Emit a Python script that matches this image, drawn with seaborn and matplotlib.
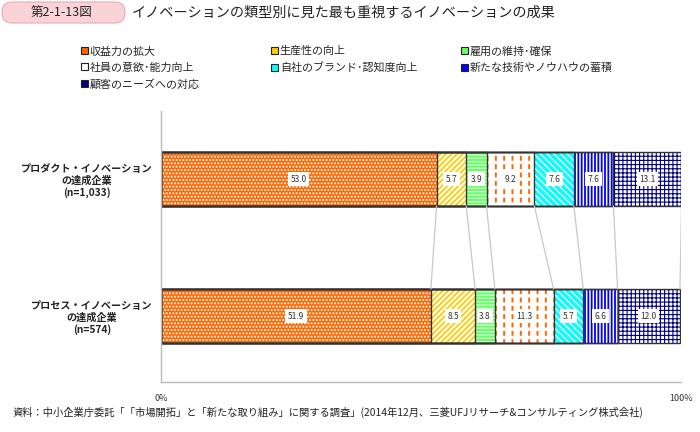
import matplotlib
matplotlib.use("Agg")
import matplotlib.pyplot as plt
import seaborn as sns
import numpy as np
import pandas as pd
from matplotlib.patches import Patch, FancyBboxPatch

sns.set_theme(style="white")
plt.rcParams['font.family'] = ['Noto Sans CJK JP', 'DejaVu Sans']
plt.rcParams['hatch.linewidth'] = 1.2

categories = ["プロダクト・イノベーション\nの達成企業\n(n=1,033)",
              "プロセス・イノベーション\nの達成企業\n(n=574)"]
series = ["収益力の拡大", "生産性の向上", "雇用の維持･確保", "社員の意欲･能力向上",
          "自社のブランド･認知度向上", "新たな技術やノウハウの蓄積", "顧客のニーズへの対応"]
product_vals = [53.0, 5.7, 3.9, 9.2, 7.6, 7.6, 13.1]
process_vals = [51.9, 8.5, 3.8, 11.3, 5.7, 6.6, 12.0]
x_ticks = [0, 100]
x_ticklabels = ["0%", "100%"]

# style per series: facecolor, hatch, hatch colour, legend colour
styles = [
    dict(fc="#FF6600", hatch=".....", hc="white", lc="#FF6600", hlw=1.0),
    dict(fc="white", hatch="//////", hc="#FFCC00", lc="#FFCC00", hlw=1.3),
    dict(fc="#66FF66", hatch="-----", hc="#CCFFCC", lc="#66FF66", hlw=1.0),
    dict(fc="white", hatch="||", hc="#FF6600", lc="white", hlw=1.4, overlay="--"),
    dict(fc="#00FFFF", hatch="\\\\\\\\\\", hc="white", lc="#00FFFF", hlw=1.0),
    dict(fc="white", hatch="|||||", hc="#0000FF", lc="#0000FF", hlw=1.3),
    dict(fc="white", hatch="++++", hc="#000080", lc="#000080", hlw=0.8),
]

vals = np.array([product_vals, process_vals])  # shape (2, n)
cum_end = np.cumsum(vals, axis=1)
cum_start = cum_end - vals

fig = plt.figure(figsize=(7, 4.32), dpi=100)
ax = fig.add_axes([161/700, 1 - 381.8/432, 520/700, 271.3/432])

W = 0.394
# draw cumulative bars from the largest to smallest so each covers the previous
for i in reversed(range(len(series))):
    st = styles[i]
    df = pd.DataFrame({"cat": categories, "end": cum_end[:, i]})
    n0 = len(ax.patches)
    sns.barplot(data=df, x="end", y="cat", orient="h", color=st["fc"], width=W,
                ax=ax, saturation=1, linewidth=0, order=categories)
    for p in ax.patches[n0:]:
        p.set_facecolor(st["fc"])
        p.set_edgecolor(st["hc"])
        p.set_hatch(st["hatch"])
        p.set_linewidth(0)
        if hasattr(p, "set_hatch_linewidth"):
            p.set_hatch_linewidth(st["hlw"])
    if "overlay" in st:
        n1 = len(ax.patches)
        sns.barplot(data=df, x="end", y="cat", orient="h", color="white", width=W,
                    ax=ax, saturation=1, linewidth=0, fill=False, order=categories)
        for p in ax.patches[n1:]:
            p.set_fill(False)
            p.set_edgecolor("white")
            p.set_hatch(st["overlay"])
            p.set_linewidth(0)
            if hasattr(p, "set_hatch_linewidth"):
                p.set_hatch_linewidth(2.5)

# outlines
for i in reversed(range(len(series))):
    df = pd.DataFrame({"cat": categories, "end": cum_end[:, i]})
    n0 = len(ax.patches)
    sns.barplot(data=df, x="end", y="cat", orient="h", color="#333333", width=W,
                ax=ax, fill=False, linewidth=1.0, order=categories)
    for p in ax.patches[n0:]:
        p.set_fill(False)
        p.set_edgecolor("#333333")
        p.set_linewidth(1.0)
        p.set_hatch(None)

# value labels
for r in range(2):
    for i in range(len(series)):
        xc = cum_start[r, i] + vals[r, i] / 2
        ax.text(xc, r, f"{vals[r, i]:.1f}", ha="center", va="center", fontsize=6,
                color="#333333", zorder=10,
                bbox=dict(boxstyle="square,pad=0.3", fc="white", ec="none"))

# connector lines
for i in range(len(series)):
    ax.plot([cum_end[0, i], cum_end[1, i]], [0 + W/2, 1 - W/2], color="#C8C8C8",
            linewidth=0.9, zorder=1)

ax.set_xlim(0, 100)
ax.set_ylim(1.48, -0.5)
ax.set_xticks(x_ticks)
ax.set_xticklabels(x_ticklabels, fontsize=6.5, color="#333333")
ax.tick_params(axis="x", length=0, pad=9)
ax.set_yticks([0, 1])
ax.set_yticklabels(categories, fontsize=7.3, color="#222222", fontweight="bold",
                   multialignment="center")
ax.tick_params(axis="y", length=0, pad=6)
ax.set_xlabel("")
ax.set_ylabel("")
for s in ["top", "right"]:
    ax.spines[s].set_visible(False)
for s in ["left", "bottom"]:
    ax.spines[s].set_color("#BBBBBB")
    ax.spines[s].set_linewidth(1.0)

# legends (three columns)
cols = [[0, 3, 6], [1, 4], [2, 5]]
col_x = [81/700, 271/700, 461/700]
for cx, idxs in zip(col_x, cols):
    handles = [Patch(facecolor=styles[k]["lc"], edgecolor="#222222", linewidth=0.8)
               for k in idxs]
    labels = [series[k] for k in idxs]
    fig.legend(handles, labels, loc="upper left", bbox_to_anchor=(cx, 1 - 46/432),
               frameon=False, fontsize=7.9, handlelength=0.6, handleheight=0.6,
               handletextpad=0.2, labelspacing=0.55, borderaxespad=0, borderpad=0)

# title box
fig.patches.append(FancyBboxPatch((0.02, (432-23)/100), 1.23, 0.21,
                                  boxstyle="round,pad=0,rounding_size=0.1",
                                  transform=fig.dpi_scale_trans,
                                  fc="#F9D3D8", ec="#EBA9B1", linewidth=0.8))
fig.text(62/700, 1 - 12.5/432, "第2-1-13図", ha="center", va="center", fontsize=9,
         color="#222222")
fig.text(132/700, 1 - 12.5/432, "イノベーションの類型別に見た最も重視するイノベーションの成果",
         ha="left", va="center", fontsize=10.2, color="#222222")

fig.text(13/700, 1 - 412/432,
         "資料：中小企業庁委託「「市場開拓」と「新たな取り組み」に関する調査」(2014年12月、三菱UFJリサーチ&コンサルティング株式会社)",
         ha="left", va="center", fontsize=7.4, color="#222222")

fig.savefig("out.png", dpi=100)
